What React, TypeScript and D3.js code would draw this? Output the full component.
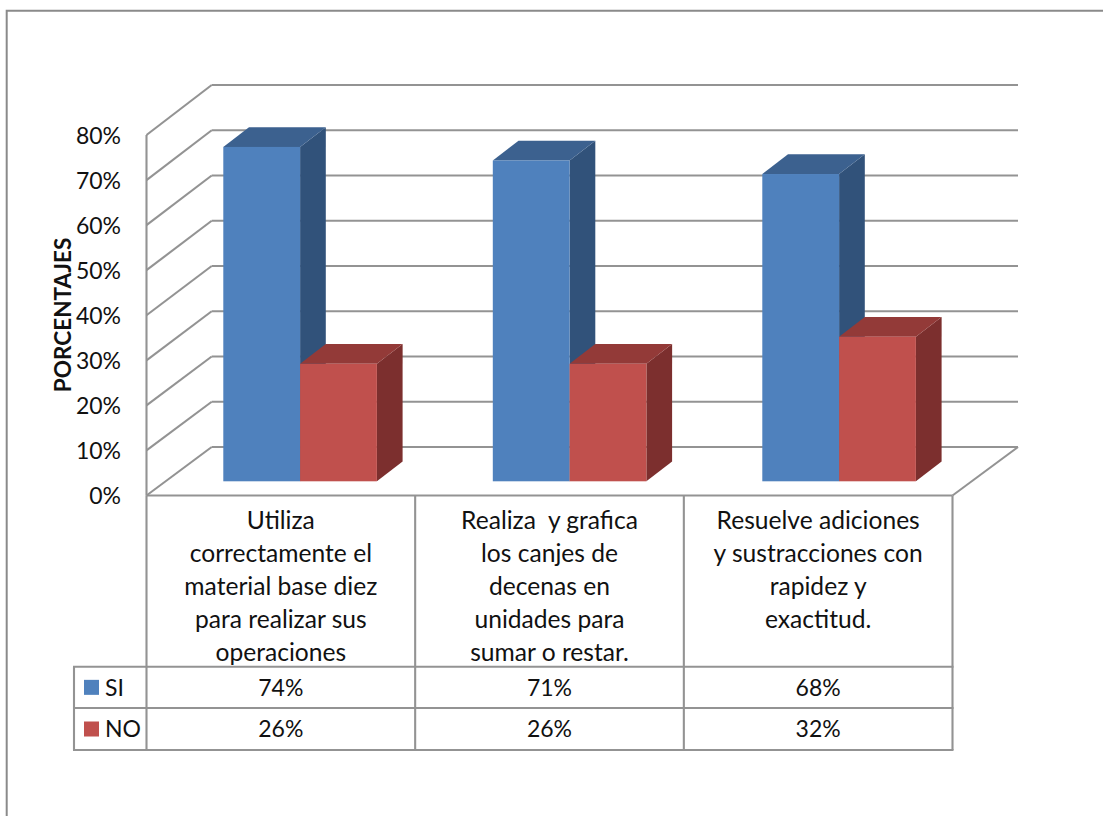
import React from "react";
import * as d3 from "d3";

const categories = ["c1", "c2", "c3"];
const categoryLines = [
  ["Utiliza", "correctamente el", "material base diez", "para realizar sus", "operaciones"],
  ["Realiza  y grafica", "los canjes de", "decenas en", "unidades para", "sumar o restar."],
  ["Resuelve adiciones", "y sustracciones con", "rapidez y", "exactitud."],
];
const seriesNames = ["SI", "NO"];
const siValues = [74, 71, 68];
const noValues = [26, 26, 32];
const yTicks = [0, 10, 20, 30, 40, 50, 60, 70, 80];

const FRONT = "#4f81bd";
const FRONT_RED = "#c0504d";
const SIDE = "#31527a";
const SIDE_RED = "#7c2f2e";
const TOP = "#3c618f";
const TOP_RED = "#933a38";
const GRID = "#939393";
const BORDER = "#8a8a8a";
const FONT = "Lato, 'Noto Sans', sans-serif";

// Wall geometry of the 3-D box
const wallFrontX = 146.5;
const wallBackX = 211.7;
const wallRightBackX = 1018;
const wallRightFrontX = 952.5;
const front0 = 495.5;
const back0 = 447;

// Front-wall and back-wall value scales
const yFront = d3.scaleLinear().domain([0, 80]).range([front0, 135]);
const yBack = d3.scaleLinear().domain([0, 80]).range([back0, 85]);
// Height of a bar measured from its own baseline
const barBase = 481.3;
const yBar = d3.scaleLinear().domain([0, 80]).range([barBase, barBase - 361.5]);

const xCat = d3.scaleBand().domain(categories).range([wallFrontX, wallRightFrontX]);
const xBars = d3.scalePoint().domain(categories).range([223.3, 762.3]);
const barW = 76.8;
const barDX = 25.7;
const barDY = 19.7;

const tableRows = [666.7, 708, 750];
const tableLeft = 74;

const pct = (v: number) => `${v}%`;

function Bar({ x, value, front, side, top }: { x: number; value: number; front: string; side: string; top: string }) {
  const yT = yBar(value);
  const r = x + barW;
  return (
    <g>
      <path d={`M${r},${barBase}L${r + barDX},${barBase - barDY}L${r + barDX},${yT - barDY}L${r},${yT}Z`} fill={side} />
      <path d={`M${x},${yT}L${x + barDX},${yT - barDY}L${r + barDX},${yT - barDY}L${r},${yT}Z`} fill={top} />
      <rect x={x} y={yT} width={barW} height={barBase - yT} fill={front} />
    </g>
  );
}

export default function App() {
  const textBase = { fontFamily: FONT, fill: "#111" };
  return (
    <svg
      width={1103}
      height={816}
      viewBox="0 0 1103 816"
      style={{ position: "absolute", left: 0, top: 0, display: "block" }}
    >
      <rect width={1103} height={816} fill="#fff" />
      {/* Chart frame */}
      <path d="M6.7,816V10.8H1103" fill="none" stroke={BORDER} strokeWidth={2} />

      {/* Back wall gridlines and side wall slants */}
      {yTicks.map((t) => (
        <g key={t} stroke={GRID} strokeWidth={2.1} fill="none">
          <line x1={wallBackX} x2={wallRightBackX} y1={yBack(t)} y2={yBack(t)} />
          <line x1={wallFrontX} x2={wallBackX} y1={yFront(t)} y2={yBack(t)} />
        </g>
      ))}
      {/* Floor and left edge */}
      <g stroke={GRID} strokeWidth={2.1} fill="none">
        <line x1={wallFrontX} x2={wallFrontX} y1={yFront(80)} y2={front0} />
        <line x1={wallFrontX} x2={wallRightFrontX} y1={front0} y2={front0} />
        <line x1={wallRightFrontX} x2={wallRightBackX} y1={front0} y2={back0} />
      </g>

      {/* Bars */}
      {categories.map((c, i) => {
        const x = xBars(c) as number;
        return (
          <g key={c}>
            <Bar x={x} value={siValues[i]} front={FRONT} side={SIDE} top={TOP} />
            <Bar x={x + barW} value={noValues[i]} front={FRONT_RED} side={SIDE_RED} top={TOP_RED} />
          </g>
        );
      })}

      {/* Value axis labels */}
      {yTicks.map((t) => (
        <text key={t} {...textBase} x={121} y={yFront(t) + 0.7} dy="0.36em" textAnchor="end" fontSize={23}>
          {pct(t)}
        </text>
      ))}
      <text
        {...textBase}
        fontSize={22.6}
        fontWeight={700}
        textAnchor="middle"
        transform="translate(70.5,315) rotate(-90)"
      >
        PORCENTAJES
      </text>

      {/* Data table grid */}
      <g stroke={GRID} strokeWidth={2.1} fill="none">
        {tableRows.map((y) => (
          <line key={y} x1={tableLeft - 1} x2={wallRightFrontX + 1} y1={y} y2={y} />
        ))}
        <line x1={tableLeft} x2={tableLeft} y1={tableRows[0]} y2={tableRows[2]} />
        {[0, 1, 2, 3].map((i) => {
          const x = wallFrontX + i * xCat.step();
          return <line key={i} x1={x} x2={x} y1={front0} y2={tableRows[2]} />;
        })}
      </g>

      {/* Category labels */}
      {categories.map((c, i) => (
        <text key={c} {...textBase} fontSize={24.6} textAnchor="middle" style={{ whiteSpace: "pre" }}>
          {categoryLines[i].map((l, j) => (
            <tspan key={j} x={(xCat(c) as number) + xCat.bandwidth() / 2} y={529.3 + j * 33}>
              {l}
            </tspan>
          ))}
        </text>
      ))}

      {/* Series rows */}
      {seriesNames.map((s, r) => {
        const vals = r === 0 ? siValues : noValues;
        const mid = (tableRows[r] + tableRows[r + 1]) / 2;
        return (
          <g key={s}>
            <rect x={84} y={mid - 7.5} width={15} height={15} fill={r === 0 ? FRONT : FRONT_RED} />
            <text {...textBase} x={105} y={mid} dy="0.36em" fontSize={23}>
              {s}
            </text>
            {categories.map((c, i) => (
              <text
                key={c}
                {...textBase}
                x={(xCat(c) as number) + xCat.bandwidth() / 2}
                y={mid}
                dy="0.36em"
                fontSize={23}
                textAnchor="middle"
              >
                {pct(vals[i])}
              </text>
            ))}
          </g>
        );
      })}
    </svg>
  );
}
